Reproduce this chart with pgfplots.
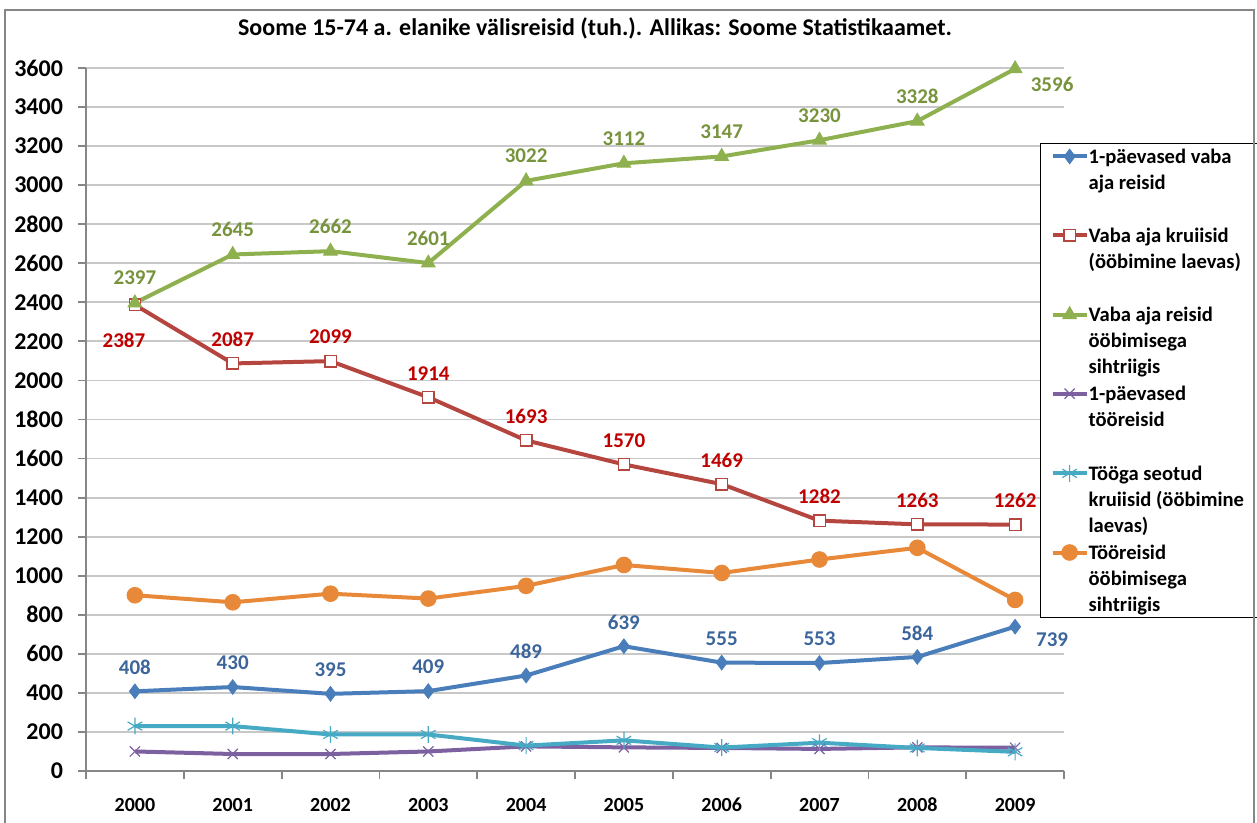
\documentclass[border=0pt]{standalone}
\usepackage{pgfplots}
\pgfplotsset{compat=1.18}
\usepackage{pgfplotstable}
\usepackage{fontspec}
\setmainfont{Carlito}
\definecolor{cblue}{HTML}{4A7EBB}
\definecolor{cred}{HTML}{B5453F}
\definecolor{cgreen}{HTML}{8EB04E}
\definecolor{cpurple}{HTML}{7D60A0}
\definecolor{cteal}{HTML}{46AAC5}
\definecolor{corange}{HTML}{E8893A}
\definecolor{lblue}{HTML}{3B659B}
\definecolor{lred}{HTML}{C00000}
\definecolor{lgreen}{HTML}{77933C}
\definecolor{axgray}{HTML}{868686}
\definecolor{grgray}{HTML}{C8C8C8}

\pgfplotstableread{
x y dx dy
0 408 0 12
1 430 0 12
2 395 0 12
3 409 0 12
4 489 0 12
5 639 0 12
6 555 0 12
7 553 0 12
8 584 0 12
9 739 18.5 -6.5
}\tblblue
\pgfplotstableread{
x y dx dy
0 2387 -5.5 -17.5
1 2087 0 12
2 2099 0 12
3 1914 0 12
4 1693 0 12
5 1570 0 12
6 1469 0 12
7 1282 0 12
8 1263 0 12
9 1262 0 12
}\tblred
\pgfplotstableread{
x y dx dy
0 2397 0 12.5
1 2645 0 12.5
2 2662 0 12.5
3 2601 0 12.5
4 3022 0 12.5
5 3112 0 12.5
6 3147 0 12.5
7 3230 0 12.5
8 3328 0 12.5
9 3596 18.5 -8
}\tblgreen
\pgfplotstableread{
x y
0 100
1 87
2 87
3 100
4 126
5 121
6 118
7 113
8 121
9 119
}\tblpurple
\pgfplotstableread{
x y
0 230
1 230
2 187
3 187
4 130
5 157
6 120
7 145
8 118
9 98
}\tblteal
\pgfplotstableread{
x y
0 900
1 864
2 908
3 883
4 948
5 1055
6 1014
7 1083
8 1143
9 876
}\tblorange

\begin{document}
\begin{tikzpicture}[x=1pt,y=1pt]
\useasboundingbox (-43,-26) rectangle (585.5,385.5);
\begin{axis}[
  at={(0,0)}, anchor=south west,
  scale only axis, width=489pt, height=351.5pt,
  xmin=-0.5, xmax=9.5, ymin=0, ymax=3600,
  axis x line=bottom, axis y line=left,
  axis line style={-, draw=axgray, line width=0.9pt},
  xtick={-0.5,0.5,...,9.5}, xticklabels={},
  extra x ticks={0,1,...,9},
  extra x tick labels={2000,2001,2002,2003,2004,2005,2006,2007,2008,2009},
  extra x tick style={tick style={draw=none}},
  ytick={0,200,...,3600},
  ymajorgrids, grid style={draw=grgray, line width=0.9pt},
  tick align=outside, major tick length=4pt,
  tick style={draw=axgray, line width=0.9pt},
  /pgf/number format/.cd, 1000 sep={}, assume math mode=true, fixed, precision=0,
  /pgfplots/.cd,
  x tick label style={font=\fontsize{10}{12}\selectfont\bfseries, yshift=-6pt},
  y tick label style={font=\fontsize{12}{14}\selectfont\bfseries, xshift=-4pt},
  legend style={at={(0.9755,0.893)}, anchor=north west, draw=black, line width=0.6pt,
    fill=white, inner xsep=5pt, inner ysep=2.5pt, row sep=0pt,
    font=\fontsize{10.3}{13}\selectfont\bfseries,
    nodes={inner sep=0pt, text depth=},
    cells={anchor=base west},
    /tikz/every even column/.style={column sep=2.5pt}},
  legend image code/.code={\draw[mark repeat=2,mark phase=2,#1,yshift=3.4pt] plot coordinates {(0pt,0pt) (8.5pt,0pt) (17pt,0pt)};},
  every node near coord/.append style={font=\fontsize{10.5}{12}\selectfont\bfseries, anchor=center},
]
\addplot[cblue, line width=2pt, mark=diamond*, mark size=3.6pt,
  mark options={solid, line width=0.5pt, fill=cblue},
  visualization depends on={\thisrow{dx}\as\dx},
  visualization depends on={\thisrow{dy}\as\dy},
  nodes near coords,
  nodes near coords style={text=lblue, xshift=\dx pt, yshift=\dy pt}]
  table[x=x,y=y] {\tblblue};
\addlegendentry{\parbox[t][39.5pt][t]{85pt}{\mbox{1-päevased vaba}\\\mbox{aja reisid}}}
\addplot[cred, line width=2pt, mark=square*, mark size=2.85pt,
  mark options={solid, line width=0.7pt, fill=white, draw=cred},
  visualization depends on={\thisrow{dx}\as\dx},
  visualization depends on={\thisrow{dy}\as\dy},
  nodes near coords,
  nodes near coords style={text=lred, xshift=\dx pt, yshift=\dy pt}]
  table[x=x,y=y] {\tblred};
\addlegendentry{\parbox[t][39.5pt][t]{85pt}{\mbox{Vaba aja kruiisid}\\\mbox{(ööbimine laevas)}}}
\addplot[cgreen, line width=2pt, mark=triangle*, mark size=3.9pt,
  mark options={solid, line width=0.5pt, fill=cgreen},
  visualization depends on={\thisrow{dx}\as\dx},
  visualization depends on={\thisrow{dy}\as\dy},
  nodes near coords,
  nodes near coords style={text=lgreen, xshift=\dx pt, yshift=\dy pt}]
  table[x=x,y=y] {\tblgreen};
\addlegendentry{\parbox[t][39.5pt][t]{85pt}{\mbox{Vaba aja reisid}\\\mbox{ööbimisega}\\\mbox{sihtriigis}}}
\addplot[cpurple, line width=2pt, mark=x, mark size=3.6pt,
  mark options={solid, line width=0.6pt}]
  table[x=x,y=y] {\tblpurple};
\addlegendentry{\parbox[t][39.5pt][t]{85pt}{\mbox{1-päevased}\\\mbox{tööreisid}}}
\addplot[cteal, line width=2pt, mark=asterisk, mark size=4.2pt,
  mark options={solid, line width=0.6pt}]
  table[x=x,y=y] {\tblteal};
\addlegendentry{\parbox[t][39.5pt][t]{85pt}{\mbox{Tööga seotud}\\\mbox{kruiisid (ööbimine}\\\mbox{laevas)}}}
\addplot[corange, line width=2pt, mark=*, mark size=3.9pt,
  mark options={solid, line width=0.5pt, fill=corange}]
  table[x=x,y=y] {\tblorange};
\addlegendentry{\parbox[t][34pt][t]{85pt}{\mbox{Tööreisid}\\\mbox{ööbimisega}\\\mbox{sihtriigis}}}
\end{axis}
\node[font=\fontsize{12}{14}\selectfont\bfseries] at (254.5,371.5) {Soome 15-74 a. elanike välisreisid (tuh.). Allikas: Soome Statistikaamet.};
\draw[axgray, line width=0.8pt] (-40.5,-26) -- (-40.5,380.5) -- (584,380.5) -- (584,-26);
\end{tikzpicture}
\end{document}
